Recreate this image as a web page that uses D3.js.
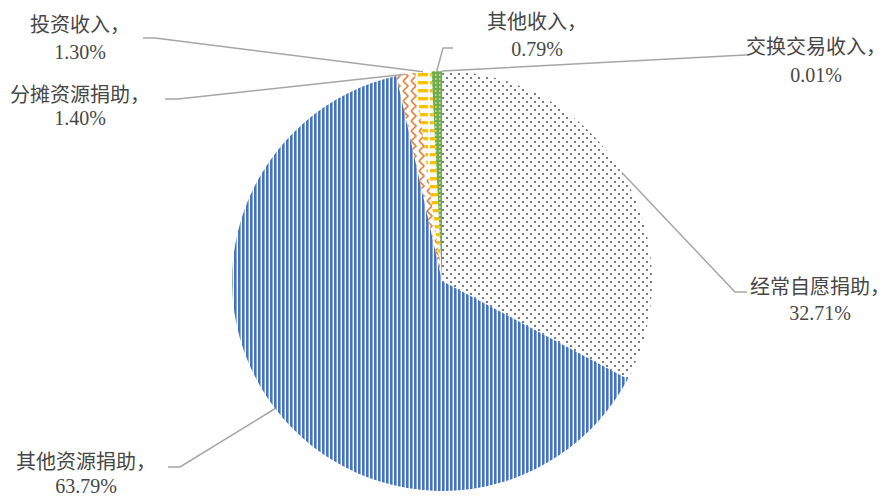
<!DOCTYPE html>
<html>
<head>
<meta charset="utf-8">
<script src="https://cdn.jsdelivr.net/npm/d3@7/dist/d3.min.js"></script>
<style>
  html, body { margin: 0; padding: 0; background: #fff; }
  svg { display: block; }
  text { font-family: "Liberation Serif", "Noto Sans CJK SC", serif; font-size: 20px; fill: #474747; }
</style>
</head>
<body>
<svg id="chart" width="890" height="497"></svg>
<script>
// Income composition, clockwise from 12 o'clock
const categories = ["交换交易收入", "经常自愿捐助", "其他资源捐助", "分摊资源捐助", "投资收入", "其他收入"];
const values = [0.01, 32.71, 63.79, 1.40, 1.30, 0.79];
const valueLabels = ["0.01%", "32.71%", "63.79%", "1.40%", "1.30%", "0.79%"];
const patternIds = ["pLightBlue", "pDots", "pStripes", "pZigzag", "pDashes", "pGreen"];

const width = 890, height = 497;
const cx = 442, cy = 281, radius = 210;

const svg = d3.select("#chart");
const defs = svg.append("defs");

// ---- fill patterns ----
const pLB = defs.append("pattern").attr("id", "pLightBlue")
  .attr("patternUnits", "userSpaceOnUse").attr("width", 4).attr("height", 4);
pLB.append("rect").attr("width", 4).attr("height", 4).attr("fill", "#5B9BD5");

const pDots = defs.append("pattern").attr("id", "pDots")
  .attr("patternUnits", "userSpaceOnUse").attr("width", 8).attr("height", 8);
pDots.append("rect").attr("x", 0).attr("y", 0).attr("width", 2).attr("height", 2).attr("fill", "#7a7a7a");
pDots.append("rect").attr("x", 4).attr("y", 4).attr("width", 2).attr("height", 2).attr("fill", "#7a7a7a");

const pStr = defs.append("pattern").attr("id", "pStripes")
  .attr("patternUnits", "userSpaceOnUse").attr("width", 4).attr("height", 4);
pStr.append("rect").attr("x", 0).attr("y", 0).attr("width", 2.6).attr("height", 4).attr("fill", "#4472C4");

const pZig = defs.append("pattern").attr("id", "pZigzag")
  .attr("patternUnits", "userSpaceOnUse").attr("width", 8).attr("height", 10);
pZig.append("path").attr("d", "M1,0 L6,5 L1,10").attr("fill", "none")
  .attr("stroke", "#ED7D31").attr("stroke-width", 1.6);

const pDash = defs.append("pattern").attr("id", "pDashes")
  .attr("patternUnits", "userSpaceOnUse").attr("width", 12).attr("height", 8);
pDash.append("rect").attr("x", 0).attr("y", 0).attr("width", 10).attr("height", 3.4).attr("fill", "#FFC000");

const pGr = defs.append("pattern").attr("id", "pGreen")
  .attr("patternUnits", "userSpaceOnUse").attr("width", 4).attr("height", 4);
pGr.append("rect").attr("width", 4).attr("height", 4).attr("fill", "#70AD47");
pGr.append("rect").attr("x", 1).attr("y", 1.5).attr("width", 1.6).attr("height", 1).attr("fill", "#fff");

// ---- pie ----
const pie = d3.pie().sort(null).value(d => d)(values);
const arc = d3.arc().innerRadius(0).outerRadius(radius);

const g = svg.append("g").attr("transform", `translate(${cx},${cy})`);
g.selectAll("path.slice")
  .data(pie)
  .join("path")
  .attr("class", "slice")
  .attr("d", arc)
  .attr("fill", (d, i) => `url(#${patternIds[i]})`);

// ---- data labels with leader lines ----
// label centre x, two line centres, and the elbow where the leader meets the text
const labelLayout = [
  { x: 816, y1: 47, y2: 75,  tx: 748, ty: 55,  ex: 745, ey: 55 },
  { x: 820, y1: 287, y2: 313, tx: 747, ty: 292, ex: 735, ey: 292 },
  { x: 86,  y1: 462, y2: 486, tx: 168, ty: 467, ex: 180, ey: 467 },
  { x: 80,  y1: 95,  y2: 118, tx: 165, ty: 99,  ex: 178, ey: 99 },
  { x: 80,  y1: 25,  y2: 52,  tx: 143, ty: 38,  ex: 155, ey: 38 },
  { x: 537, y1: 22,  y2: 49,  tx: 453, ty: 48,  ex: 443, ey: 48 }
];

const edgePoint = d => {
  const a = (d.startAngle + d.endAngle) / 2;
  return [cx + radius * Math.sin(a), cy - radius * Math.cos(a)];
};

const leaders = svg.append("g");
pie.forEach((d, i) => {
  const L = labelLayout[i];
  const [px, py] = edgePoint(d);
  leaders.append("path")
    .attr("d", d3.line()([[L.tx, L.ty], [L.ex, L.ey], [px, py]]))
    .attr("fill", "none")
    .attr("stroke", "#a6a6a6")
    .attr("stroke-width", 1.5);
});

const labels = svg.append("g");
pie.forEach((d, i) => {
  const L = labelLayout[i];
  labels.append("text")
    .attr("x", L.x).attr("y", L.y1)
    .attr("text-anchor", "middle").attr("dominant-baseline", "central")
    .text(categories[i] + "，");
  labels.append("text")
    .attr("x", L.x).attr("y", L.y2)
    .attr("text-anchor", "middle").attr("dominant-baseline", "central")
    .text(valueLabels[i]);
});
</script>
</body>
</html>
